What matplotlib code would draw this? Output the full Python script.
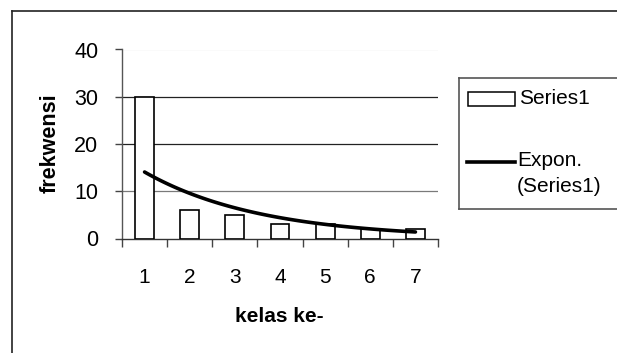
import numpy as np
import matplotlib
matplotlib.use("Agg")
import matplotlib.pyplot as plt
from matplotlib.patches import Rectangle
from matplotlib.lines import Line2D

categories = ["1", "2", "3", "4", "5", "6", "7"]
series1 = [30, 6, 5, 3, 3, 2, 2]
yticks = [0, 10, 20, 30, 40]
grid_colors = {10: "#7a7a7a", 20: "#222222", 30: "#222222", 40: "#dcdcdc"}

plt.rcParams["font.family"] = ["Liberation Sans", "DejaVu Sans"]

W, H = 617, 353
fig = plt.figure(figsize=(W / 100, H / 100), dpi=100)

def fx(x):
    return x / W

def fy(y):
    return 1 - y / H

L, R, T, B = 122, 438, 49.5, 238.5
ax = fig.add_axes([fx(L), fy(B), (R - L) / W, (B - T) / H])

x = np.arange(1, len(categories) + 1)
ax.bar(x, series1, width=0.42, facecolor="white", edgecolor="black",
       linewidth=1.2, zorder=3)

# Exponential trendline (least squares on log values, like a spreadsheet)
b, a = np.polyfit(x, np.log(series1), 1)
xt = np.linspace(1, 7, 100)
ax.plot(xt, np.exp(a + b * xt), color="black", linewidth=2.6, zorder=4,
        solid_capstyle="round")

for v in yticks[1:]:
    ax.axhline(v, color=grid_colors[v], linewidth=0.9, zorder=1)

ax.set_xlim(0.5, len(categories) + 0.5)
ax.set_ylim(0, 40)
ax.set_yticks(yticks)
ax.set_xticks(x)
ax.set_xticklabels(categories)
ax.set_xticks(np.arange(0.5, len(categories) + 1, 1), minor=True)
ax.tick_params(axis="x", which="major", length=0, pad=21, labelsize=15)
ax.tick_params(axis="x", which="minor", length=6, direction="out",
               color="#444444", width=1)
ax.tick_params(axis="y", length=5, direction="out", color="#444444",
               width=1, pad=12, labelsize=15.5)
for s in ["top", "right"]:
    ax.spines[s].set_visible(False)
ax.spines["left"].set_color("#555555")
ax.spines["bottom"].set_color("#333333")
ax.spines["left"].set_linewidth(1)
ax.spines["bottom"].set_linewidth(1)

fig.text(fx(279.5), fy(322), "kelas ke-", fontsize=15, fontweight="bold",
         ha="center", va="baseline")
fig.text(fx(50), fy(143), "frekwensi", fontsize=15.5, fontweight="bold",
         rotation=90, ha="center", va="center")

# outer chart frame (cropped at right and bottom)
fig.add_artist(Line2D([fx(11.5), fx(W + 1)], [fy(11), fy(11)],
                      color="#222222", linewidth=1.2))
fig.add_artist(Line2D([fx(11.5), fx(11.5)], [fy(11), fy(H + 1)],
                      color="#222222", linewidth=1.2))

# legend box (cropped at right)
fig.add_artist(Line2D([fx(459), fx(W + 1)], [fy(78), fy(78)],
                      color="#555555", linewidth=1.2))
fig.add_artist(Line2D([fx(459), fx(459)], [fy(78), fy(209)],
                      color="#555555", linewidth=1.2))
fig.add_artist(Line2D([fx(459), fx(W + 1)], [fy(209), fy(209)],
                      color="#555555", linewidth=1.2))
fig.add_artist(Rectangle((fx(468), fy(106)), fx(47), 14 / H,
                         facecolor="white", edgecolor="black", linewidth=1.1))
fig.text(fx(519), fy(99), "Series1", fontsize=15, ha="left", va="center")
fig.add_artist(Line2D([fx(467), fx(515)], [fy(162), fy(162)],
                      color="black", linewidth=2.6))
fig.text(fx(517), fy(161), "Expon.", fontsize=15, ha="left", va="center")
fig.text(fx(517), fy(187), "(Series1)", fontsize=15, ha="left", va="center")

fig.savefig("out.png", dpi=100, facecolor="white")
